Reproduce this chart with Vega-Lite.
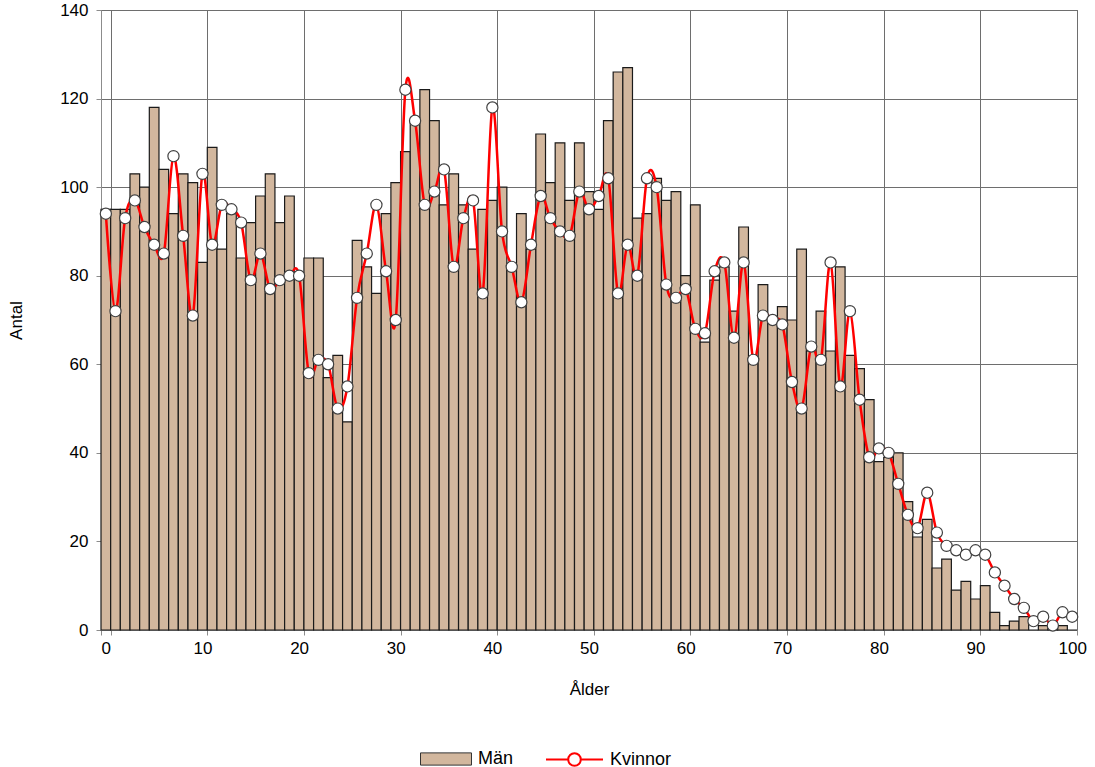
{
  "$schema": "https://vega.github.io/schema/vega-lite/v6.json",
  "width": 976,
  "height": 620,
  "autosize": {"type": "none"},
  "padding": {"left": 101, "top": 10, "right": 18, "bottom": 137},
  "background": "white",
  "config": {
    "font": "Liberation Sans",
    "view": {"stroke": "#555555", "strokeWidth": 1},
    "axis": {
      "labelFontSize": 17,
      "labelColor": "#000000",
      "titleFontSize": 17,
      "titleFontWeight": "normal",
      "titleColor": "#000000",
      "gridColor": "#6e6e6e",
      "gridWidth": 1,
      "gridOpacity": 1,
      "domainColor": "#8c8c8c",
      "tickColor": "#8c8c8c",
      "tickSize": 5
    },
    "legend": {"labelFontSize": 18, "labelColor": "#000000", "labelFont": "Liberation Sans"}
  },
  "data": {
    "values": [
      {"age": 0, "man": 95, "kvinna": 94}, {"age": 1, "man": 95, "kvinna": 72}, {"age": 2, "man": 95, "kvinna": 93},
      {"age": 3, "man": 103, "kvinna": 97}, {"age": 4, "man": 100, "kvinna": 91}, {"age": 5, "man": 118, "kvinna": 87},
      {"age": 6, "man": 104, "kvinna": 85}, {"age": 7, "man": 94, "kvinna": 107}, {"age": 8, "man": 103, "kvinna": 89},
      {"age": 9, "man": 101, "kvinna": 71}, {"age": 10, "man": 83, "kvinna": 103}, {"age": 11, "man": 109, "kvinna": 87},
      {"age": 12, "man": 86, "kvinna": 96}, {"age": 13, "man": 94, "kvinna": 95}, {"age": 14, "man": 84, "kvinna": 92},
      {"age": 15, "man": 92, "kvinna": 79}, {"age": 16, "man": 98, "kvinna": 85}, {"age": 17, "man": 103, "kvinna": 77},
      {"age": 18, "man": 92, "kvinna": 79}, {"age": 19, "man": 98, "kvinna": 80}, {"age": 20, "man": 80, "kvinna": 80},
      {"age": 21, "man": 84, "kvinna": 58}, {"age": 22, "man": 84, "kvinna": 61}, {"age": 23, "man": 57, "kvinna": 60},
      {"age": 24, "man": 62, "kvinna": 50}, {"age": 25, "man": 47, "kvinna": 55}, {"age": 26, "man": 88, "kvinna": 75},
      {"age": 27, "man": 82, "kvinna": 85}, {"age": 28, "man": 76, "kvinna": 96}, {"age": 29, "man": 94, "kvinna": 81},
      {"age": 30, "man": 101, "kvinna": 70}, {"age": 31, "man": 108, "kvinna": 122}, {"age": 32, "man": 115, "kvinna": 115},
      {"age": 33, "man": 122, "kvinna": 96}, {"age": 34, "man": 115, "kvinna": 99}, {"age": 35, "man": 96, "kvinna": 104},
      {"age": 36, "man": 103, "kvinna": 82}, {"age": 37, "man": 96, "kvinna": 93}, {"age": 38, "man": 86, "kvinna": 97},
      {"age": 39, "man": 95, "kvinna": 76}, {"age": 40, "man": 97, "kvinna": 118}, {"age": 41, "man": 100, "kvinna": 90},
      {"age": 42, "man": 82, "kvinna": 82}, {"age": 43, "man": 94, "kvinna": 74}, {"age": 44, "man": 86, "kvinna": 87},
      {"age": 45, "man": 112, "kvinna": 98}, {"age": 46, "man": 101, "kvinna": 93}, {"age": 47, "man": 110, "kvinna": 90},
      {"age": 48, "man": 97, "kvinna": 89}, {"age": 49, "man": 110, "kvinna": 99}, {"age": 50, "man": 99, "kvinna": 95},
      {"age": 51, "man": 95, "kvinna": 98}, {"age": 52, "man": 115, "kvinna": 102}, {"age": 53, "man": 126, "kvinna": 76},
      {"age": 54, "man": 127, "kvinna": 87}, {"age": 55, "man": 93, "kvinna": 80}, {"age": 56, "man": 94, "kvinna": 102},
      {"age": 57, "man": 102, "kvinna": 100}, {"age": 58, "man": 97, "kvinna": 78}, {"age": 59, "man": 99, "kvinna": 75},
      {"age": 60, "man": 80, "kvinna": 77}, {"age": 61, "man": 96, "kvinna": 68}, {"age": 62, "man": 65, "kvinna": 67},
      {"age": 63, "man": 79, "kvinna": 81}, {"age": 64, "man": 82, "kvinna": 83}, {"age": 65, "man": 72, "kvinna": 66},
      {"age": 66, "man": 91, "kvinna": 83}, {"age": 67, "man": 61, "kvinna": 61}, {"age": 68, "man": 78, "kvinna": 71},
      {"age": 69, "man": 70, "kvinna": 70}, {"age": 70, "man": 73, "kvinna": 69}, {"age": 71, "man": 70, "kvinna": 56},
      {"age": 72, "man": 86, "kvinna": 50}, {"age": 73, "man": 63, "kvinna": 64}, {"age": 74, "man": 72, "kvinna": 61},
      {"age": 75, "man": 63, "kvinna": 83}, {"age": 76, "man": 82, "kvinna": 55}, {"age": 77, "man": 62, "kvinna": 72},
      {"age": 78, "man": 59, "kvinna": 52}, {"age": 79, "man": 52, "kvinna": 39}, {"age": 80, "man": 38, "kvinna": 41},
      {"age": 81, "man": 39, "kvinna": 40}, {"age": 82, "man": 40, "kvinna": 33}, {"age": 83, "man": 29, "kvinna": 26},
      {"age": 84, "man": 21, "kvinna": 23}, {"age": 85, "man": 25, "kvinna": 31}, {"age": 86, "man": 14, "kvinna": 22},
      {"age": 87, "man": 16, "kvinna": 19}, {"age": 88, "man": 9, "kvinna": 18}, {"age": 89, "man": 11, "kvinna": 17},
      {"age": 90, "man": 7, "kvinna": 18}, {"age": 91, "man": 10, "kvinna": 17}, {"age": 92, "man": 4, "kvinna": 13},
      {"age": 93, "man": 1, "kvinna": 10}, {"age": 94, "man": 2, "kvinna": 7}, {"age": 95, "man": 3, "kvinna": 5},
      {"age": 96, "man": 0, "kvinna": 2}, {"age": 97, "man": 1, "kvinna": 3}, {"age": 98, "man": 1, "kvinna": 1},
      {"age": 99, "man": 1, "kvinna": 4}, {"age": 100, "man": 0, "kvinna": 3}
    ]
  },
  "encoding": {
    "x": {
      "field": "age",
      "type": "ordinal",
      "scale": {"paddingInner": 0, "paddingOuter": 0},
      "axis": {
        "values": [0, 10, 20, 30, 40, 50, 60, 70, 80, 90, 100],
        "tickBand": "extent",
        "labelAngle": 0,
        "title": "Ålder",
        "grid": true,
        "labelPadding": 5,
        "titlePadding": 25
      }
    }
  },
  "layer": [
    {
      "mark": {"type": "bar", "stroke": "#1a1a1a", "strokeWidth": 1.2},
      "encoding": {
        "y": {
          "field": "man",
          "type": "quantitative",
          "scale": {"domain": [0, 140], "nice": false},
          "axis": {"values": [0, 20, 40, 60, 80, 100, 120, 140], "title": "Antal", "grid": true, "labelPadding": 8, "titlePadding": 34}
        },
        "fill": {
          "datum": "Män",
          "scale": {"range": ["#d2b79e"]},
          "legend": {
            "orient": "none",
            "legendX": 319,
            "legendY": 723,
            "title": null,
            "symbolType": "M-1,-0.24H1V0.24H-1Z",
            "symbolSize": 2600,
            "symbolStrokeColor": "#333333",
            "symbolStrokeWidth": 1,
            "symbolOpacity": 1,
            "labelOffset": 6
          }
        }
      }
    },
    {
      "mark": {"type": "line", "interpolate": "cardinal", "strokeWidth": 2.5},
      "encoding": {
        "y": {
          "field": "kvinna",
          "type": "quantitative",
          "axis": {"values": [0, 20, 40, 60, 80, 100, 120, 140], "title": "Antal", "grid": true, "labelPadding": 8, "titlePadding": 34}
        },
        "stroke": {
          "datum": "Kvinnor",
          "scale": {"range": ["#ff0000"]},
          "legend": {
            "orient": "none",
            "legendX": 444,
            "legendY": 720,
            "title": null,
            "symbolType": "M-1,0H-0.22M0.22,0H1M-0.22,0A0.22,0.22,0,1,1,0.22,0A0.22,0.22,0,1,1,-0.22,0Z",
            "symbolSize": 3249,
            "symbolStrokeWidth": 2,
            "symbolFillColor": "#ffffff",
            "labelOffset": 6
          }
        }
      }
    },
    {
      "mark": {"type": "point", "filled": true, "fill": "#ffffff", "stroke": "#404040", "strokeWidth": 1.2, "size": 125, "opacity": 1},
      "encoding": {
        "y": {
          "field": "kvinna",
          "type": "quantitative",
          "axis": {"values": [0, 20, 40, 60, 80, 100, 120, 140], "title": "Antal", "grid": true, "labelPadding": 8, "titlePadding": 34}
        }
      }
    }
  ]
}
